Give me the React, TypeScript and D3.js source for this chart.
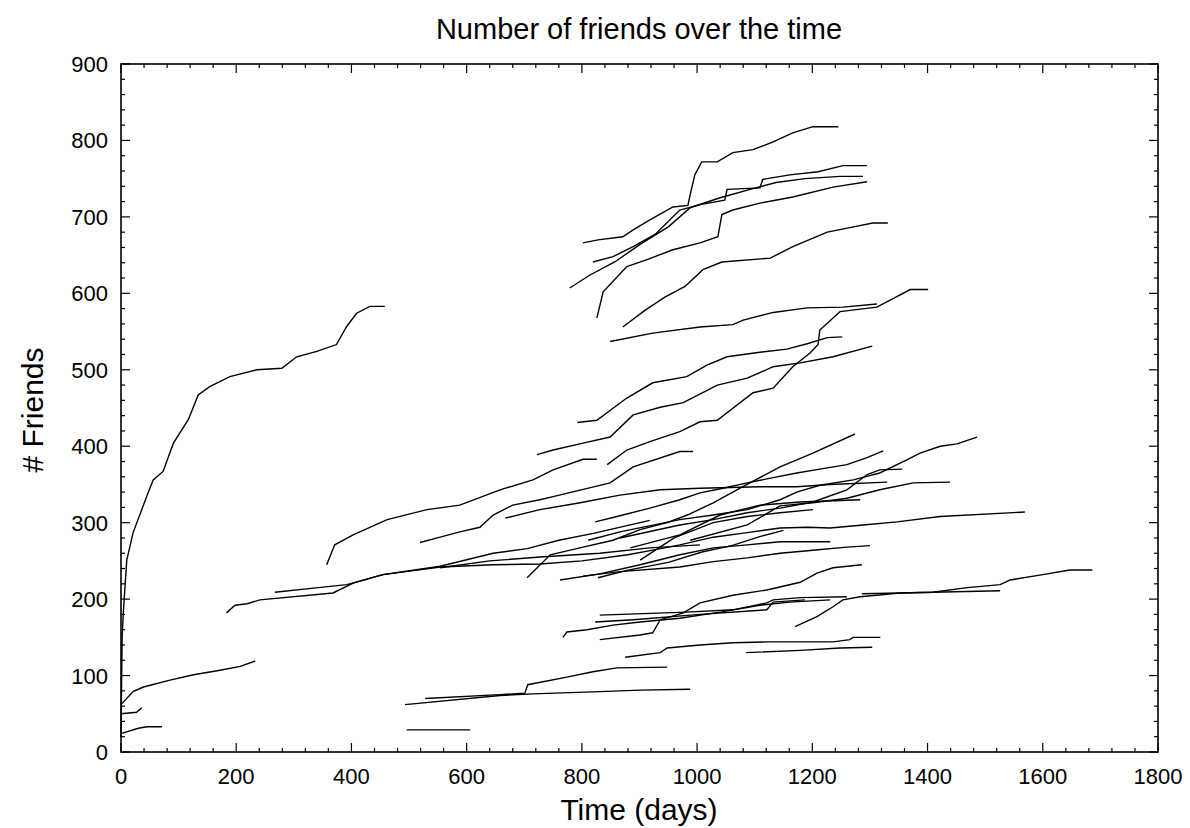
import React from 'react';
import * as d3 from 'd3';

type Pt = [number, number]; // [day, friends]

// axis ticks
const xTicks = [0, 200, 400, 600, 800, 1000, 1200, 1400, 1600, 1800];
const yTicks = [0, 100, 200, 300, 400, 500, 600, 700, 800, 900];

// early users
const user01: Pt[] = [[0, 20], [1, 90], [2, 150], [4, 182], [10, 251], [21, 287], [47, 339], [56, 356], [73, 367], [91, 404], [117, 435], [134, 467], [154, 478], [189, 491], [236, 500], [279, 502], [305, 517], [340, 524], [374, 533], [392, 557], [409, 574], [432, 583], [458, 583]];
const user02: Pt[] = [[0, 62], [21, 79], [39, 85], [85, 94], [126, 101], [172, 107], [207, 112], [233, 119]];
const user03: Pt[] = [[0, 50], [27, 52], [36, 58]];
const user04: Pt[] = [[0, 24], [30, 31], [45, 33], [71, 33]];
const user05: Pt[] = [[183, 182], [198, 192], [219, 194], [241, 199], [368, 208], [403, 221], [455, 232], [554, 242], [646, 245], [727, 246], [800, 250], [880, 258], [930, 265], [970, 271], [1028, 281], [1087, 287], [1144, 293], [1191, 294], [1231, 293], [1288, 297], [1347, 301], [1422, 308], [1569, 314]];
const user06: Pt[] = [[267, 209], [330, 214], [392, 219], [454, 232], [554, 243], [646, 260], [705, 266], [760, 277], [820, 286], [918, 303]];
const user07: Pt[] = [[357, 245], [371, 271], [403, 284], [462, 304], [531, 317], [588, 323], [658, 343], [715, 356], [750, 369], [802, 383], [826, 383]];
const user08: Pt[] = [[519, 274], [554, 281], [588, 288], [623, 294], [646, 310], [680, 323], [727, 330], [750, 334], [849, 352], [889, 373], [970, 393], [993, 393]];

// middle cluster
const user09: Pt[] = [[705, 228], [745, 258], [802, 268], [854, 277], [901, 291], [948, 300], [983, 310], [1028, 326], [1069, 343], [1144, 373], [1201, 391], [1274, 416]];
const user10: Pt[] = [[667, 306], [727, 317], [797, 326], [866, 336], [936, 343], [1005, 345], [1109, 347], [1173, 347], [1231, 350], [1330, 353]];
const user11: Pt[] = [[823, 301], [861, 308], [918, 319], [970, 330], [1005, 339], [1045, 345], [1087, 352], [1132, 359], [1173, 365], [1213, 370], [1260, 376], [1295, 385], [1323, 394]];
const user12: Pt[] = [[811, 277], [866, 288], [970, 304], [1028, 310], [1087, 317], [1144, 330], [1173, 340], [1213, 349], [1271, 356], [1317, 365], [1364, 382], [1387, 391], [1422, 400], [1451, 403], [1486, 412]];
const user13: Pt[] = [[866, 280], [970, 297], [1028, 304], [1087, 313], [1144, 319], [1201, 327], [1260, 343], [1295, 363], [1317, 369], [1356, 370]];
const user14: Pt[] = [[988, 277], [1087, 297], [1144, 322], [1201, 326], [1260, 332], [1317, 343], [1375, 352], [1439, 353]];
const user15: Pt[] = [[884, 267], [970, 284], [1040, 310], [1109, 323], [1179, 327], [1283, 330]];
const user16: Pt[] = [[901, 251], [960, 280], [1028, 300], [1087, 308], [1144, 313], [1201, 317]];
const user17: Pt[] = [[762, 225], [831, 233], [901, 245], [970, 258], [1028, 267], [1087, 271], [1144, 275], [1231, 275]];
const user18: Pt[] = [[802, 230], [866, 236], [970, 242], [1028, 249], [1087, 254], [1144, 260], [1201, 264], [1260, 268], [1300, 270]];
const user19: Pt[] = [[554, 241], [640, 250], [727, 255], [831, 260], [918, 267], [1005, 271]];
const user20: Pt[] = [[831, 147], [901, 153], [923, 156], [936, 173], [976, 182], [1005, 195], [1062, 205], [1121, 212], [1179, 222], [1208, 234], [1236, 241], [1286, 245]];
const user21: Pt[] = [[828, 228], [880, 238], [950, 248], [1010, 262], [1060, 270], [1110, 282], [1150, 290]];

// upper cluster
const user22: Pt[] = [[802, 666], [828, 670], [871, 674], [889, 683], [918, 696], [958, 713], [984, 715], [988, 729], [996, 755], [1008, 772], [1035, 772], [1062, 784], [1097, 788], [1132, 798], [1166, 810], [1201, 818], [1245, 818]];
const user23: Pt[] = [[819, 641], [854, 648], [889, 661], [927, 677], [970, 709], [1005, 716], [1048, 722], [1052, 736], [1109, 738], [1114, 749], [1161, 755], [1210, 759], [1253, 767], [1295, 767]];
const user24: Pt[] = [[779, 607], [814, 624], [857, 641], [901, 664], [950, 687], [988, 712], [1040, 725], [1092, 736], [1137, 745], [1187, 750], [1248, 753], [1288, 753]];
const user25: Pt[] = [[826, 568], [837, 602], [878, 635], [913, 644], [958, 657], [1005, 666], [1036, 674], [1043, 703], [1062, 709], [1109, 718], [1166, 726], [1236, 739], [1295, 746]];
const user26: Pt[] = [[871, 556], [910, 578], [944, 595], [979, 609], [1010, 631], [1043, 641], [1127, 646], [1166, 661], [1226, 680], [1265, 686], [1305, 692], [1331, 692]];
const user27: Pt[] = [[849, 537], [923, 548], [1005, 556], [1062, 559], [1080, 565], [1132, 575], [1191, 581], [1253, 582], [1312, 586]];
const user28: Pt[] = [[844, 376], [878, 395], [918, 406], [970, 419], [1005, 432], [1035, 434], [1097, 470], [1132, 476], [1166, 504], [1196, 522], [1210, 533], [1213, 552], [1248, 576], [1312, 582], [1370, 605], [1401, 605]];
const user29: Pt[] = [[792, 431], [826, 434], [878, 463], [923, 483], [982, 491], [1017, 506], [1052, 517], [1109, 523], [1156, 527], [1191, 534], [1226, 542], [1252, 543]];
const user30: Pt[] = [[722, 389], [750, 395], [802, 404], [849, 412], [889, 441], [936, 451], [976, 457], [1035, 480], [1087, 489], [1132, 504], [1179, 509], [1236, 517], [1304, 531]];

// lower group
const user31: Pt[] = [[496, 29], [606, 29]];
const user32: Pt[] = [[493, 62], [658, 74], [715, 76], [831, 79], [901, 81], [988, 82]];
const user33: Pt[] = [[528, 70], [658, 75], [701, 77], [706, 88], [774, 98], [819, 105], [861, 110], [948, 111]];
const user34: Pt[] = [[875, 124], [936, 130], [948, 136], [1005, 140], [1062, 143], [1121, 144], [1236, 144], [1265, 147], [1271, 150], [1318, 150]];
const user35: Pt[] = [[1085, 130], [1179, 133], [1248, 136], [1304, 137]];
const user36: Pt[] = [[767, 150], [774, 157], [809, 160], [854, 166], [901, 170], [970, 175], [1040, 183], [1109, 192], [1161, 196], [1231, 199]];
const user37: Pt[] = [[831, 179], [982, 183], [1062, 186], [1121, 195], [1132, 199], [1179, 202], [1260, 203]];
const user38: Pt[] = [[823, 170], [889, 173], [1005, 180], [1121, 186], [1132, 196], [1187, 199]];
const user39: Pt[] = [[1170, 164], [1208, 177], [1236, 190], [1253, 199], [1283, 203], [1352, 208], [1409, 209], [1469, 215], [1526, 219], [1543, 225], [1600, 232], [1647, 238], [1686, 238]];
const user40: Pt[] = [[1286, 207], [1352, 208], [1409, 209], [1526, 211]];

const users = [user01, user02, user03, user04, user05, user06, user07, user08, user09, user10,
  user11, user12, user13, user14, user15, user16, user17, user18, user19, user20,
  user21, user22, user23, user24, user25, user26, user27, user28, user29, user30,
  user31, user32, user33, user34, user35, user36, user37, user38, user39, user40];

const W = 1190;
const H = 828;
const margin = { left: 121, right: 32, top: 64, bottom: 76 };
const font = '"Liberation Sans", Arial, Helvetica, sans-serif';

export default function App() {
  const x = d3.scaleLinear().domain([0, 1800]).range([margin.left, W - margin.right]);
  const y = d3.scaleLinear().domain([0, 900]).range([H - margin.bottom, margin.top]);
  const line = d3.line<Pt>().x(d => x(d[0])).y(d => y(d[1]));

  const x0 = x.range()[0], x1 = x.range()[1];
  const y0 = y.range()[0], y1 = y.range()[1];
  const xMinor = d3.range(0, 1801, 40);
  const yMinor = d3.range(0, 901, 20);

  return (
    <svg width={W} height={H} style={{ position: 'absolute', left: 0, top: 0, background: '#fff' }}>
      <text x={639} y={39} textAnchor="middle" fontFamily={font} fontSize={29}>Number of friends over the time</text>

      <g stroke="#000" fill="none" strokeWidth={1.4}>
        {users.map((u, i) => <path key={i} d={line(u) || ''} />)}
      </g>

      {/* ticks inward on all four sides */}
      <g stroke="#000" strokeWidth={1.2}>
        {xMinor.map(v => {
          const len = v % 200 === 0 ? 9 : 4;
          return (
            <g key={'x' + v}>
              <line x1={x(v)} x2={x(v)} y1={y0} y2={y0 - len} />
              <line x1={x(v)} x2={x(v)} y1={y1} y2={y1 + len} />
            </g>
          );
        })}
        {yMinor.map(v => {
          const len = v % 100 === 0 ? 9 : 4;
          return (
            <g key={'y' + v}>
              <line x1={x0} x2={x0 + len} y1={y(v)} y2={y(v)} />
              <line x1={x1} x2={x1 - len} y1={y(v)} y2={y(v)} />
            </g>
          );
        })}
      </g>
      <rect x={x0} y={y1} width={x1 - x0} height={y0 - y1} fill="none" stroke="#000" strokeWidth={1.6} />

      <g fontFamily={font} fontSize={22} fill="#000">
        {xTicks.map(v => (
          <text key={v} x={x(v)} y={y0 + 32} textAnchor="middle">{v}</text>
        ))}
        {yTicks.map(v => (
          <text key={v} x={x0 - 13} y={y(v) + 8} textAnchor="end">{v}</text>
        ))}
      </g>

      <text x={639} y={820} textAnchor="middle" fontFamily={font} fontSize={30}>Time (days)</text>
      <text transform={`translate(43, ${(y0 + y1) / 2 + 2}) rotate(-90)`} textAnchor="middle" fontFamily={font} fontSize={30}># Friends</text>
    </svg>
  );
}
